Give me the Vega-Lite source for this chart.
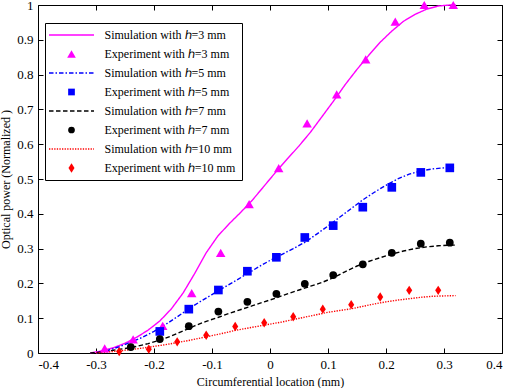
{
  "$schema": "https://vega.github.io/schema/vega-lite/v6.json",
  "width": 464,
  "height": 348,
  "autosize": {"type": "none"},
  "padding": {"left": 38, "top": 5, "right": 8, "bottom": 35},
  "background": "white",
  "config": {
    "font": "Liberation Serif",
    "view": {"stroke": "black", "strokeWidth": 1},
    "axis": {
      "grid": false,
      "domain": false,
      "ticks": true,
      "tickColor": "black",
      "tickSize": -5,
      "labelFont": "Liberation Serif",
      "labelFontSize": 13,
      "labelColor": "black",
      "labelPadding": 10,
      "titleFont": "Liberation Serif",
      "titleFontSize": 12,
      "titleFontWeight": "normal",
      "titleColor": "black"
    }
  },
  "datasets": {
    "sim": [
      {"series": "Simulation with ℎ=3 mm", "x": -0.31, "y": 0},
      {"series": "Simulation with ℎ=3 mm", "x": -0.29, "y": 0.006},
      {"series": "Simulation with ℎ=3 mm", "x": -0.27, "y": 0.015},
      {"series": "Simulation with ℎ=3 mm", "x": -0.25, "y": 0.028},
      {"series": "Simulation with ℎ=3 mm", "x": -0.23, "y": 0.045},
      {"series": "Simulation with ℎ=3 mm", "x": -0.21, "y": 0.066},
      {"series": "Simulation with ℎ=3 mm", "x": -0.19, "y": 0.092},
      {"series": "Simulation with ℎ=3 mm", "x": -0.17, "y": 0.127},
      {"series": "Simulation with ℎ=3 mm", "x": -0.15, "y": 0.172},
      {"series": "Simulation with ℎ=3 mm", "x": -0.13, "y": 0.228},
      {"series": "Simulation with ℎ=3 mm", "x": -0.11, "y": 0.288},
      {"series": "Simulation with ℎ=3 mm", "x": -0.09, "y": 0.336},
      {"series": "Simulation with ℎ=3 mm", "x": -0.07, "y": 0.372},
      {"series": "Simulation with ℎ=3 mm", "x": -0.05, "y": 0.405},
      {"series": "Simulation with ℎ=3 mm", "x": -0.03, "y": 0.44},
      {"series": "Simulation with ℎ=3 mm", "x": -0.01, "y": 0.48},
      {"series": "Simulation with ℎ=3 mm", "x": 0.01, "y": 0.52},
      {"series": "Simulation with ℎ=3 mm", "x": 0.03, "y": 0.558},
      {"series": "Simulation with ℎ=3 mm", "x": 0.05, "y": 0.595},
      {"series": "Simulation with ℎ=3 mm", "x": 0.07, "y": 0.635},
      {"series": "Simulation with ℎ=3 mm", "x": 0.09, "y": 0.68},
      {"series": "Simulation with ℎ=3 mm", "x": 0.11, "y": 0.725},
      {"series": "Simulation with ℎ=3 mm", "x": 0.13, "y": 0.772},
      {"series": "Simulation with ℎ=3 mm", "x": 0.15, "y": 0.815},
      {"series": "Simulation with ℎ=3 mm", "x": 0.17, "y": 0.855},
      {"series": "Simulation with ℎ=3 mm", "x": 0.19, "y": 0.893},
      {"series": "Simulation with ℎ=3 mm", "x": 0.21, "y": 0.925},
      {"series": "Simulation with ℎ=3 mm", "x": 0.23, "y": 0.953},
      {"series": "Simulation with ℎ=3 mm", "x": 0.25, "y": 0.973},
      {"series": "Simulation with ℎ=3 mm", "x": 0.27, "y": 0.988},
      {"series": "Simulation with ℎ=3 mm", "x": 0.29, "y": 0.997},
      {"series": "Simulation with ℎ=3 mm", "x": 0.31, "y": 1.0},
      {"series": "Simulation with ℎ=3 mm", "x": 0.32, "y": 1.0},

      {"series": "Simulation with ℎ=5 mm", "x": -0.30, "y": 0},
      {"series": "Simulation with ℎ=5 mm", "x": -0.28, "y": 0.007},
      {"series": "Simulation with ℎ=5 mm", "x": -0.26, "y": 0.018},
      {"series": "Simulation with ℎ=5 mm", "x": -0.24, "y": 0.031},
      {"series": "Simulation with ℎ=5 mm", "x": -0.22, "y": 0.045},
      {"series": "Simulation with ℎ=5 mm", "x": -0.20, "y": 0.062},
      {"series": "Simulation with ℎ=5 mm", "x": -0.18, "y": 0.082},
      {"series": "Simulation with ℎ=5 mm", "x": -0.16, "y": 0.104},
      {"series": "Simulation with ℎ=5 mm", "x": -0.14, "y": 0.127},
      {"series": "Simulation with ℎ=5 mm", "x": -0.12, "y": 0.148},
      {"series": "Simulation with ℎ=5 mm", "x": -0.10, "y": 0.168},
      {"series": "Simulation with ℎ=5 mm", "x": -0.08, "y": 0.188},
      {"series": "Simulation with ℎ=5 mm", "x": -0.06, "y": 0.207},
      {"series": "Simulation with ℎ=5 mm", "x": -0.04, "y": 0.227},
      {"series": "Simulation with ℎ=5 mm", "x": -0.02, "y": 0.247},
      {"series": "Simulation with ℎ=5 mm", "x": 0.00, "y": 0.266},
      {"series": "Simulation with ℎ=5 mm", "x": 0.02, "y": 0.283},
      {"series": "Simulation with ℎ=5 mm", "x": 0.04, "y": 0.300},
      {"series": "Simulation with ℎ=5 mm", "x": 0.06, "y": 0.318},
      {"series": "Simulation with ℎ=5 mm", "x": 0.08, "y": 0.341},
      {"series": "Simulation with ℎ=5 mm", "x": 0.10, "y": 0.365},
      {"series": "Simulation with ℎ=5 mm", "x": 0.12, "y": 0.390},
      {"series": "Simulation with ℎ=5 mm", "x": 0.14, "y": 0.415},
      {"series": "Simulation with ℎ=5 mm", "x": 0.16, "y": 0.440},
      {"series": "Simulation with ℎ=5 mm", "x": 0.18, "y": 0.462},
      {"series": "Simulation with ℎ=5 mm", "x": 0.20, "y": 0.482},
      {"series": "Simulation with ℎ=5 mm", "x": 0.22, "y": 0.500},
      {"series": "Simulation with ℎ=5 mm", "x": 0.24, "y": 0.514},
      {"series": "Simulation with ℎ=5 mm", "x": 0.26, "y": 0.523},
      {"series": "Simulation with ℎ=5 mm", "x": 0.28, "y": 0.529},
      {"series": "Simulation with ℎ=5 mm", "x": 0.30, "y": 0.532},
      {"series": "Simulation with ℎ=5 mm", "x": 0.32, "y": 0.533},

      {"series": "Simulation with ℎ=7 mm", "x": -0.31, "y": 0},
      {"series": "Simulation with ℎ=7 mm", "x": -0.29, "y": 0.003},
      {"series": "Simulation with ℎ=7 mm", "x": -0.27, "y": 0.008},
      {"series": "Simulation with ℎ=7 mm", "x": -0.25, "y": 0.013},
      {"series": "Simulation with ℎ=7 mm", "x": -0.23, "y": 0.019},
      {"series": "Simulation with ℎ=7 mm", "x": -0.21, "y": 0.027},
      {"series": "Simulation with ℎ=7 mm", "x": -0.19, "y": 0.037},
      {"series": "Simulation with ℎ=7 mm", "x": -0.17, "y": 0.049},
      {"series": "Simulation with ℎ=7 mm", "x": -0.15, "y": 0.063},
      {"series": "Simulation with ℎ=7 mm", "x": -0.13, "y": 0.078},
      {"series": "Simulation with ℎ=7 mm", "x": -0.11, "y": 0.091},
      {"series": "Simulation with ℎ=7 mm", "x": -0.09, "y": 0.102},
      {"series": "Simulation with ℎ=7 mm", "x": -0.07, "y": 0.114},
      {"series": "Simulation with ℎ=7 mm", "x": -0.05, "y": 0.125},
      {"series": "Simulation with ℎ=7 mm", "x": -0.03, "y": 0.136},
      {"series": "Simulation with ℎ=7 mm", "x": -0.01, "y": 0.147},
      {"series": "Simulation with ℎ=7 mm", "x": 0.01, "y": 0.158},
      {"series": "Simulation with ℎ=7 mm", "x": 0.03, "y": 0.170},
      {"series": "Simulation with ℎ=7 mm", "x": 0.05, "y": 0.181},
      {"series": "Simulation with ℎ=7 mm", "x": 0.07, "y": 0.192},
      {"series": "Simulation with ℎ=7 mm", "x": 0.09, "y": 0.203},
      {"series": "Simulation with ℎ=7 mm", "x": 0.11, "y": 0.217},
      {"series": "Simulation with ℎ=7 mm", "x": 0.13, "y": 0.234},
      {"series": "Simulation with ℎ=7 mm", "x": 0.15, "y": 0.250},
      {"series": "Simulation with ℎ=7 mm", "x": 0.17, "y": 0.263},
      {"series": "Simulation with ℎ=7 mm", "x": 0.19, "y": 0.274},
      {"series": "Simulation with ℎ=7 mm", "x": 0.21, "y": 0.284},
      {"series": "Simulation with ℎ=7 mm", "x": 0.23, "y": 0.293},
      {"series": "Simulation with ℎ=7 mm", "x": 0.25, "y": 0.300},
      {"series": "Simulation with ℎ=7 mm", "x": 0.27, "y": 0.305},
      {"series": "Simulation with ℎ=7 mm", "x": 0.29, "y": 0.308},
      {"series": "Simulation with ℎ=7 mm", "x": 0.31, "y": 0.310},
      {"series": "Simulation with ℎ=7 mm", "x": 0.32, "y": 0.310},

      {"series": "Simulation with ℎ=10 mm", "x": -0.30, "y": 0},
      {"series": "Simulation with ℎ=10 mm", "x": -0.28, "y": 0.003},
      {"series": "Simulation with ℎ=10 mm", "x": -0.26, "y": 0.006},
      {"series": "Simulation with ℎ=10 mm", "x": -0.24, "y": 0.010},
      {"series": "Simulation with ℎ=10 mm", "x": -0.22, "y": 0.014},
      {"series": "Simulation with ℎ=10 mm", "x": -0.20, "y": 0.019},
      {"series": "Simulation with ℎ=10 mm", "x": -0.18, "y": 0.024},
      {"series": "Simulation with ℎ=10 mm", "x": -0.16, "y": 0.030},
      {"series": "Simulation with ℎ=10 mm", "x": -0.14, "y": 0.036},
      {"series": "Simulation with ℎ=10 mm", "x": -0.12, "y": 0.043},
      {"series": "Simulation with ℎ=10 mm", "x": -0.10, "y": 0.050},
      {"series": "Simulation with ℎ=10 mm", "x": -0.08, "y": 0.057},
      {"series": "Simulation with ℎ=10 mm", "x": -0.06, "y": 0.065},
      {"series": "Simulation with ℎ=10 mm", "x": -0.04, "y": 0.071},
      {"series": "Simulation with ℎ=10 mm", "x": -0.02, "y": 0.077},
      {"series": "Simulation with ℎ=10 mm", "x": 0.00, "y": 0.083},
      {"series": "Simulation with ℎ=10 mm", "x": 0.02, "y": 0.089},
      {"series": "Simulation with ℎ=10 mm", "x": 0.04, "y": 0.096},
      {"series": "Simulation with ℎ=10 mm", "x": 0.06, "y": 0.103},
      {"series": "Simulation with ℎ=10 mm", "x": 0.08, "y": 0.110},
      {"series": "Simulation with ℎ=10 mm", "x": 0.10, "y": 0.117},
      {"series": "Simulation with ℎ=10 mm", "x": 0.12, "y": 0.122},
      {"series": "Simulation with ℎ=10 mm", "x": 0.14, "y": 0.127},
      {"series": "Simulation with ℎ=10 mm", "x": 0.16, "y": 0.134},
      {"series": "Simulation with ℎ=10 mm", "x": 0.18, "y": 0.141},
      {"series": "Simulation with ℎ=10 mm", "x": 0.20, "y": 0.147},
      {"series": "Simulation with ℎ=10 mm", "x": 0.22, "y": 0.152},
      {"series": "Simulation with ℎ=10 mm", "x": 0.24, "y": 0.156},
      {"series": "Simulation with ℎ=10 mm", "x": 0.26, "y": 0.160},
      {"series": "Simulation with ℎ=10 mm", "x": 0.28, "y": 0.163},
      {"series": "Simulation with ℎ=10 mm", "x": 0.30, "y": 0.164},
      {"series": "Simulation with ℎ=10 mm", "x": 0.32, "y": 0.165}
    ],
    "exp": [
      {"series": "Experiment with ℎ=3 mm", "x": -0.285, "y": 0.013},
      {"series": "Experiment with ℎ=3 mm", "x": -0.236, "y": 0.039},
      {"series": "Experiment with ℎ=3 mm", "x": -0.185, "y": 0.078},
      {"series": "Experiment with ℎ=3 mm", "x": -0.135, "y": 0.172},
      {"series": "Experiment with ℎ=3 mm", "x": -0.085, "y": 0.288},
      {"series": "Experiment with ℎ=3 mm", "x": -0.036, "y": 0.428},
      {"series": "Experiment with ℎ=3 mm", "x": 0.015, "y": 0.531},
      {"series": "Experiment with ℎ=3 mm", "x": 0.064, "y": 0.66},
      {"series": "Experiment with ℎ=3 mm", "x": 0.115, "y": 0.743},
      {"series": "Experiment with ℎ=3 mm", "x": 0.165, "y": 0.844},
      {"series": "Experiment with ℎ=3 mm", "x": 0.216, "y": 0.952},
      {"series": "Experiment with ℎ=3 mm", "x": 0.266, "y": 1.0},
      {"series": "Experiment with ℎ=3 mm", "x": 0.316, "y": 1.0},

      {"series": "Experiment with ℎ=5 mm", "x": -0.19, "y": 0.062},
      {"series": "Experiment with ℎ=5 mm", "x": -0.14, "y": 0.126},
      {"series": "Experiment with ℎ=5 mm", "x": -0.089, "y": 0.181},
      {"series": "Experiment with ℎ=5 mm", "x": -0.039, "y": 0.235},
      {"series": "Experiment with ℎ=5 mm", "x": 0.011, "y": 0.275},
      {"series": "Experiment with ℎ=5 mm", "x": 0.06, "y": 0.332},
      {"series": "Experiment with ℎ=5 mm", "x": 0.109, "y": 0.366},
      {"series": "Experiment with ℎ=5 mm", "x": 0.16, "y": 0.419},
      {"series": "Experiment with ℎ=5 mm", "x": 0.21, "y": 0.476},
      {"series": "Experiment with ℎ=5 mm", "x": 0.26, "y": 0.519},
      {"series": "Experiment with ℎ=5 mm", "x": 0.31, "y": 0.532},

      {"series": "Experiment with ℎ=7 mm", "x": -0.24, "y": 0.017},
      {"series": "Experiment with ℎ=7 mm", "x": -0.19, "y": 0.04},
      {"series": "Experiment with ℎ=7 mm", "x": -0.14, "y": 0.077},
      {"series": "Experiment with ℎ=7 mm", "x": -0.089, "y": 0.119},
      {"series": "Experiment with ℎ=7 mm", "x": -0.039, "y": 0.147},
      {"series": "Experiment with ℎ=7 mm", "x": 0.011, "y": 0.17},
      {"series": "Experiment with ℎ=7 mm", "x": 0.06, "y": 0.199},
      {"series": "Experiment with ℎ=7 mm", "x": 0.109, "y": 0.224},
      {"series": "Experiment with ℎ=7 mm", "x": 0.16, "y": 0.255},
      {"series": "Experiment with ℎ=7 mm", "x": 0.21, "y": 0.288},
      {"series": "Experiment with ℎ=7 mm", "x": 0.26, "y": 0.314},
      {"series": "Experiment with ℎ=7 mm", "x": 0.31, "y": 0.317},

      {"series": "Experiment with ℎ=10 mm", "x": -0.26, "y": 0.004},
      {"series": "Experiment with ℎ=10 mm", "x": -0.209, "y": 0.011},
      {"series": "Experiment with ℎ=10 mm", "x": -0.16, "y": 0.032},
      {"series": "Experiment with ℎ=10 mm", "x": -0.11, "y": 0.051},
      {"series": "Experiment with ℎ=10 mm", "x": -0.06, "y": 0.076},
      {"series": "Experiment with ℎ=10 mm", "x": -0.01, "y": 0.087},
      {"series": "Experiment with ℎ=10 mm", "x": 0.04, "y": 0.104},
      {"series": "Experiment with ℎ=10 mm", "x": 0.091, "y": 0.126},
      {"series": "Experiment with ℎ=10 mm", "x": 0.14, "y": 0.139},
      {"series": "Experiment with ℎ=10 mm", "x": 0.19, "y": 0.161},
      {"series": "Experiment with ℎ=10 mm", "x": 0.24, "y": 0.18},
      {"series": "Experiment with ℎ=10 mm", "x": 0.29, "y": 0.18}
    ]
  },
  "layer": [
    {
      "data": {"name": "sim"},
      "mark": {"type": "line", "strokeWidth": 1.4},
      "encoding": {
        "x": {
          "field": "x", "type": "quantitative",
          "scale": {"domain": [-0.4, 0.4], "nice": false, "zero": false},
          "axis": {
            "orient": "bottom",
            "values": [-0.4, -0.3, -0.2, -0.1, 0, 0.1, 0.2, 0.3, 0.4],
            "labelExpr": "toString(round(datum.value*10)/10)",
            "title": "Circumferential location (mm)",
            "titlePadding": 5
          }
        },
        "y": {
          "field": "y", "type": "quantitative",
          "scale": {"domain": [0, 1], "nice": false, "zero": false},
          "axis": {
            "orient": "left",
            "values": [0, 0.1, 0.2, 0.3, 0.4, 0.5, 0.6, 0.7, 0.8, 0.9, 1],
            "labelExpr": "toString(round(datum.value*10)/10)",
            "title": "Optical power (Normalized )",
            "titlePadding": 4
          }
        },
        "color": {
          "field": "series", "type": "nominal",
          "scale": {
            "domain": ["Simulation with ℎ=3 mm", "Experiment with ℎ=3 mm", "Simulation with ℎ=5 mm", "Experiment with ℎ=5 mm", "Simulation with ℎ=7 mm", "Experiment with ℎ=7 mm", "Simulation with ℎ=10 mm", "Experiment with ℎ=10 mm"],
            "range": ["#ff00ff", "#ff00ff", "#0000ff", "#0000ff", "#000000", "#000000", "#ff0000", "#ff0000"]
          },
          "legend": {
            "title": null,
            "orient": "none",
            "legendX": 7,
            "legendY": 18,
            "direction": "vertical",
            "columns": 1,
            "fillColor": "white",
            "strokeColor": "black",
            "padding": 6,
            "rowPadding": 7,
            "labelFont": "Liberation Serif",
            "labelFontSize": 12,
            "labelColor": "black",
            "labelLimit": 300,
            "labelOffset": 27,
            "symbolOffset": 14.5,
            "symbolSize": 506,
            "encode": {
              "symbols": {
                "update": {
                  "size": {"signal": "test(/^Sim/, datum.value) ? 506 : (test(/=3 /, datum.value) ? 75 : 45)"},
                  "strokeWidth": {"signal": "test(/^Sim/, datum.value) ? 1.4 : 0"},
                  "fill": {"signal": "test(/^Sim/, datum.value) ? 'transparent' : scale('color', datum.value)"},
                  "stroke": {"signal": "scale('color', datum.value)"},
                  "strokeDash": {"signal": "scale('strokeDash', datum.value)"},
                  "opacity": {"value": 1}
                }
              }
            }
          }
        },
        "strokeDash": {
          "field": "series", "type": "nominal",
          "scale": {
            "domain": ["Simulation with ℎ=3 mm", "Experiment with ℎ=3 mm", "Simulation with ℎ=5 mm", "Experiment with ℎ=5 mm", "Simulation with ℎ=7 mm", "Experiment with ℎ=7 mm", "Simulation with ℎ=10 mm", "Experiment with ℎ=10 mm"],
            "range": [[1, 0], [1, 0], [4.5, 2, 1.5, 2], [1, 0], [4.5, 2.5], [1, 0], [1.3, 1.3], [1, 0]]
          }
        }
      }
    },
    {
      "data": {"name": "exp"},
      "mark": {"type": "point", "filled": true, "opacity": 1, "clip": false},
      "encoding": {
        "x": {
          "field": "x", "type": "quantitative",
          "axis": {
            "orient": "top",
            "values": [-0.4, -0.3, -0.2, -0.1, 0, 0.1, 0.2, 0.3, 0.4],
            "labels": false,
            "title": null
          }
        },
        "y": {
          "field": "y", "type": "quantitative",
          "axis": {
            "orient": "right",
            "values": [0, 0.1, 0.2, 0.3, 0.4, 0.5, 0.6, 0.7, 0.8, 0.9, 1],
            "labels": false,
            "title": null
          }
        },
        "color": {"field": "series", "type": "nominal"},
        "size": {
          "field": "series", "type": "nominal", "legend": null,
          "scale": {
            "domain": ["Experiment with ℎ=3 mm", "Experiment with ℎ=5 mm", "Experiment with ℎ=7 mm", "Experiment with ℎ=10 mm"],
            "range": [90, 45, 55, 55]
          }
        },
        "shape": {
          "field": "series", "type": "nominal",
          "scale": {
            "domain": ["Simulation with ℎ=3 mm", "Experiment with ℎ=3 mm", "Simulation with ℎ=5 mm", "Experiment with ℎ=5 mm", "Simulation with ℎ=7 mm", "Experiment with ℎ=7 mm", "Simulation with ℎ=10 mm", "Experiment with ℎ=10 mm"],
            "range": ["M-2,0L2,0", "triangle-up", "M-2,0L2,0", "square", "M-2,0L2,0", "circle", "M-2,0L2,0", "M0,-1.4L0.9,0L0,1.4L-0.9,0Z"]
          }
        }
      }
    }
  ],
  "resolve": {"axis": {"x": "independent", "y": "independent"}}
}
